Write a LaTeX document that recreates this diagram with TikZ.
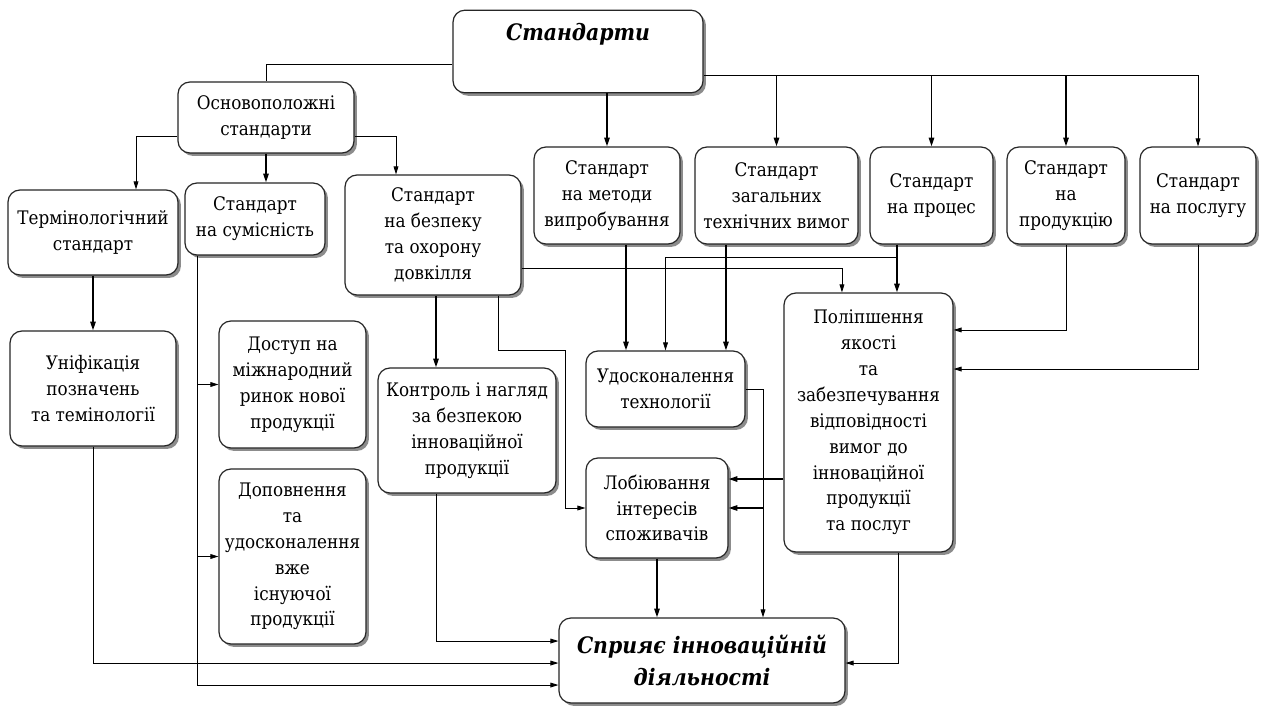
\documentclass[tikz,border=0pt]{standalone}
\usepackage{fontspec}
\setmainfont{DejaVu Serif Condensed}
\usetikzlibrary{arrows.meta,shadows,calc}
\begin{document}
\begin{tikzpicture}[x=0.75pt,y=-0.75pt,
  box/.style={draw=black!85, line width=0.9pt, rounded corners=9pt, fill=white, align=center, inner sep=1pt,
    font=\fontsize{14}{19.4}\selectfont,
    drop shadow={shadow xshift=2.2pt, shadow yshift=-2.2pt, fill=black!45, opacity=1}},
  titlefont/.style={font=\fontsize{17}{24}\selectfont\bfseries\itshape},
  plain/.style={line width=0.6pt},
  conn/.style={line width=0.6pt, -{Triangle[length=6pt,width=3.6pt]}},
  heavy/.style={line width=1.2pt, -{Triangle[length=6.5pt,width=4pt]}}
]
\fill[white] (0,0) rectangle (1261,706);
\useasboundingbox (0,0) rectangle (1261,706);

% boxes
\node[box, titlefont, minimum width=187.5pt, minimum height=60pt, text height=21.5pt, text depth=38.5pt] (std) at (578,51.5) {Стандарти};
\node[box, minimum width=132pt, minimum height=53.25pt] (osn) at (266,117.5) {Основоположні\\стандарти};
\node[box, minimum width=127.5pt, minimum height=63.75pt] (term) at (93,232.5) {Термінологічний\\стандарт};
\node[box, minimum width=105pt, minimum height=54pt] (sum) at (255,219) {Стандарт\\на сумісність};
\node[box, minimum width=132pt, minimum height=90pt] (bez) at (433,235) {Стандарт\\на безпеку\\та охорону\\довкілля};
\node[box, minimum width=109.5pt, minimum height=72.75pt] (met) at (607,195.5) {Стандарт\\на методи\\випробування};
\node[box, minimum width=122.25pt, minimum height=72.75pt] (zag) at (776.5,195.5) {Стандарт\\загальних\\технічних вимог};
\node[box, minimum width=92.25pt, minimum height=72.75pt] (pro) at (931.5,195.5) {Стандарт\\на процес};
\node[box, minimum width=88.5pt, minimum height=72.75pt] (prod) at (1066,195.5) {Стандарт\\на\\продукцію};
\node[box, minimum width=87pt, minimum height=72.75pt] (pos) at (1198,195.5) {Стандарт\\на послугу};
\node[box, minimum width=124.5pt, minimum height=86.25pt] (uni) at (93,388.5) {Уніфікація\\позначень\\та темінології};
\node[box, minimum width=110.25pt, minimum height=95.25pt] (dost) at (292.5,384.5) {Доступ на\\міжнародний\\ринок нової\\продукції};
\node[box, minimum width=110.25pt, minimum height=131.25pt] (dop) at (292.5,556.5) {Доповнення\\та\\удосконалення\\вже\\існуючої\\продукції};
\node[box, minimum width=133.5pt, minimum height=93.75pt] (kon) at (467,430.5) {Контроль і нагляд\\за безпекою\\інноваційної\\продукції};
\node[box, minimum width=119.25pt, minimum height=57pt] (udo) at (665.5,389) {Удосконалення\\технології};
\node[box, minimum width=106.5pt, minimum height=75pt] (lob) at (657,508) {Лобіювання\\інтересів\\споживачів};
\node[box, minimum width=126.75pt, minimum height=194.25pt] (pol) at (868.5,422.5) {Поліпшення\\якості\\та\\забезпечування\\відповідності\\вимог до\\інноваційної\\продукції\\та послуг};
\node[box, titlefont, minimum width=214.5pt, minimum height=63.75pt] (spr) at (702,660.5) {Сприяє інноваційній\\діяльності};

% from Стандарти
\draw[plain] ([yshift=-9.4pt]std.west) -| (osn.north);
\coordinate (hr) at ([yshift=-18pt]std.east);
\draw[conn] (hr) -| (pos.north);
\draw[heavy] (hr -| zag.north) -- (zag.north);
\draw[heavy] (hr -| pro.north) -- (pro.north);
\draw[heavy] (hr -| prod.north) -- (prod.north);
\draw[heavy] (std.south -| met.north) -- (met.north);

% from Основоположні
\draw[conn] ([yshift=-13.9pt]osn.west) -| ([xshift=32.25pt]term.north);
\draw[heavy] (osn.south) -- (osn.south |- sum.north);
\draw[conn] ([yshift=-13.9pt]osn.east) -| ([xshift=-27.75pt]bez.north);

% left column
\draw[heavy] (term.south) -- (uni.north);
\draw[conn] (uni.south) |- ([yshift=-1.9pt]spr.west);
\coordinate (sv) at ([xshift=-43.5pt]sum.south);
\draw[conn] (sv) |- ([yshift=-18.4pt]spr.west);
\draw[conn] (sv |- dost.west) -- (dost.west);
\draw[conn] (sv |- dop.west) -- (dop.west);

% from безпеку
\coordinate (b1) at ([xshift=2.25pt]bez.south);
\draw[heavy] (b1) -- (b1 |- kon.north);
\coordinate (k1) at ([xshift=-23.25pt]kon.south);
\draw[conn] (k1) |- ([yshift=14.6pt]spr.west);
\coordinate (b2) at ([xshift=48.75pt]bez.south);
\coordinate (l1) at ([xshift=-15pt]lob.west);
\draw[conn] (b2) |- (l1 |- udo.north) |- (lob.west);
\draw[conn] ([yshift=-24.75pt]bez.east) -| ([xshift=-19.9pt]pol.north);

% to Удосконалення / Поліпшення
\coordinate (m1) at ([xshift=14.25pt]met.south);
\draw[heavy] (m1) -- (m1 |- udo.north);
\coordinate (z1) at ([xshift=-37.9pt]zag.south);
\draw[heavy] (z1) -- (z1 |- udo.north);
\coordinate (p1) at ([xshift=-25.9pt]pro.south);
\draw[heavy] (p1) -- (p1 |- pol.north);
\draw[conn] ([yshift=-9.75pt]p1) -| (udo.north);
\draw[conn] (prod.south) |- ([yshift=69.4pt]pol.east);
\draw[conn] (pos.south) |- ([yshift=40.1pt]pol.east);

% to Лобіювання / Сприяє
\coordinate (u1) at ([xshift=45.75pt]spr.north);
\draw[conn] (udo.east) -| (u1);
\draw[heavy] (u1 |- lob.east) -- (lob.east);
\coordinate (q1) at ([yshift=-42.4pt]pol.west);
\draw[heavy] (q1) -- (q1 -| lob.east);
\draw[heavy] (lob.south) -- (lob.south |- spr.north);
\draw[conn] ([xshift=22.1pt]pol.south) |- ([yshift=-1.9pt]spr.east);
\end{tikzpicture}
\end{document}
